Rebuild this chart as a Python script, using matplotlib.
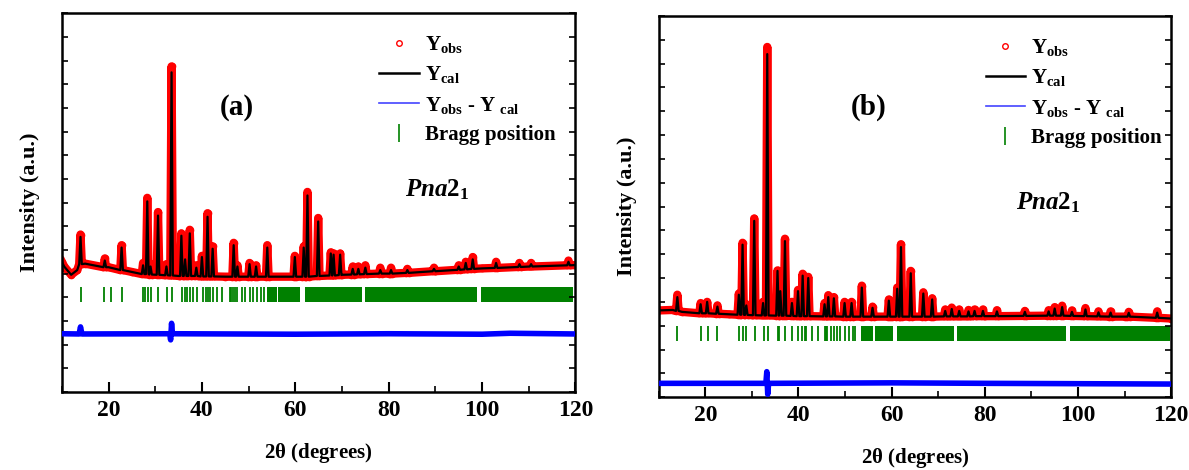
import numpy as np
import matplotlib
matplotlib.use('Agg')
import matplotlib.pyplot as plt
from matplotlib.lines import Line2D
from matplotlib.ticker import MultipleLocator, NullFormatter

plt.rcParams['font.family'] = ['Liberation Serif', 'DejaVu Serif']
plt.rcParams['font.weight'] = 'bold'
plt.rcParams['axes.labelweight'] = 'bold'
plt.rcParams['mathtext.fontset'] = 'custom'
plt.rcParams['mathtext.rm'] = 'Liberation Serif:bold'
plt.rcParams['mathtext.it'] = 'Liberation Serif:italic:bold'
plt.rcParams['mathtext.bf'] = 'Liberation Serif:bold'

# ---------------- panel (a) ----------------
# background of the calculated profile
bg_a_x = [10, 10.5, 12, 13.3, 15, 20, 25, 28, 35, 45, 60, 70, 80, 90, 100, 110, 120]
bg_a_y = [5.5, 5.3, 4.95, 5.15, 5.42, 5.27, 5.07, 4.98, 4.9, 4.87, 4.87, 4.95, 5.0, 5.1, 5.22, 5.3, 5.36]

# peaks: position, calculated top, observed top, foot level
peak_a_x = [14.0, 19.2, 22.8, 27.4, 28.3, 29.0, 30.6, 32.4, 33.5, 35.6, 36.4, 37.4,
            38.8, 40.0, 41.2, 42.3, 46.8, 47.6, 50.2, 51.6, 54.0, 59.9, 61.8, 62.6,
            64.9, 67.6, 68.2, 69.6, 72.3, 73.5, 75.0, 78.2, 80.5, 84.0, 89.7, 95.0,
            96.5, 98.0, 103.0, 108.0, 110.5, 118.5]
peak_a_cal = [6.55, 5.55, 6.1, 5.35, 8.05, 5.3, 7.45, 5.3, 13.5, 6.6, 5.6, 6.7,
              5.25, 5.7, 7.4, 6.05, 6.2, 5.3, 5.4, 5.3, 6.1, 5.7, 6.1, 8.3,
              7.2, 5.85, 5.8, 5.8, 5.2, 5.2, 5.25, 5.15, 5.15, 5.15, 5.2, 5.3,
              5.45, 5.6, 5.45, 5.4, 5.4, 5.5]
peak_a_obs = [6.65, 5.64, 6.2, 5.45, 8.2, 5.4, 7.6, 5.4, 13.75, 6.7, 5.7, 6.85,
              5.35, 5.75, 7.55, 6.15, 6.3, 5.35, 5.45, 5.35, 6.2, 5.75, 6.15, 8.45,
              7.35, 5.9, 5.85, 5.85, 5.3, 5.3, 5.35, 5.25, 5.25, 5.2, 5.25, 5.35,
              5.5, 5.7, 5.5, 5.45, 5.45, 5.55]
peak_a_foot = [5.4, 5.27, 5.15, 4.98, 4.98, 4.96, 4.95, 4.93, 4.92, 4.9, 4.9, 4.9,
               4.9, 4.88, 4.88, 4.88, 4.87, 4.87, 4.87, 4.87, 4.87, 4.87, 4.87, 4.87,
               4.9, 4.92, 4.92, 4.94, 4.96, 4.97, 4.98, 5.0, 5.0, 5.03, 5.1, 5.16,
               5.18, 5.2, 5.24, 5.28, 5.3, 5.35]

# difference curve (obs - cal)
diff_a_x = [10, 13.7, 14.0, 14.3, 33.1, 33.3, 33.5, 33.7, 60, 80, 100, 106, 120]
diff_a_y = [2.46, 2.45, 2.75, 2.45, 2.46, 2.2, 2.9, 2.46, 2.44, 2.46, 2.44, 2.48, 2.45]

bragg_a_lines = [14.2, 19.1, 20.6, 22.8, 27.4, 27.9, 28.5, 29.2, 30.7, 32.6, 33.6,
                 35.7, 36.3, 36.9, 37.5, 38.0, 38.9, 40.2, 40.8, 41.3, 41.8, 42.4,
                 43.2, 44.2, 46.0, 46.3, 46.7, 47.1, 47.5, 48.5, 49.3, 50.2, 51.0,
                 51.7, 52.6, 53.3]
bragg_a_bands = [(54.0, 56.0), (56.4, 61.0), (62.0, 74.3), (75.0, 99.0), (99.8, 119.5)]
bragg_a_lim = (3.8, 4.43)

# ---------------- panel (b) ----------------
bg_b_x = [10, 13, 15, 20, 25, 30, 40, 50, 60, 80, 95, 110, 120]
bg_b_y = [3.64, 3.66, 3.58, 3.52, 3.48, 3.44, 3.4, 3.38, 3.38, 3.4, 3.42, 3.38, 3.3]

peak_b_x = [14.0, 19.0, 20.4, 22.6, 27.2, 28.0, 28.8, 30.5, 32.4, 33.3, 35.5, 36.1,
            37.1, 38.6, 39.9, 40.9, 42.1, 45.6, 46.4, 47.6, 49.9, 51.4, 53.6, 55.9,
            59.4, 61.2, 62.0, 64.1, 66.8, 68.7, 71.5, 72.9, 74.5, 76.5, 77.8, 79.6,
            82.6, 88.6, 93.7, 95.0, 96.6, 98.7, 101.6, 104.4, 107.0, 110.9, 117.0]
peak_b_cal = [4.2, 3.9, 4.0, 3.8, 4.3, 6.4, 3.85, 7.4, 3.95, 14.4, 5.3, 4.45,
              6.55, 3.95, 4.45, 5.1, 5.0, 3.9, 4.2, 4.15, 3.95, 3.95, 4.6, 3.75,
              4.05, 4.55, 6.3, 5.2, 4.35, 4.1, 3.62, 3.7, 3.62, 3.6, 3.62, 3.62,
              3.6, 3.58, 3.6, 3.72, 3.78, 3.58, 3.68, 3.56, 3.55, 3.54, 3.55]
peak_b_obs = [4.3, 3.95, 4.0, 3.85, 4.35, 6.48, 3.9, 7.5, 4.0, 14.7, 5.32, 4.5,
              6.65, 4.0, 4.5, 5.18, 5.05, 3.95, 4.28, 4.2, 4.0, 4.0, 4.68, 3.8,
              4.1, 4.6, 6.42, 5.3, 4.4, 4.15, 3.68, 3.76, 3.68, 3.66, 3.68, 3.68,
              3.65, 3.62, 3.65, 3.78, 3.84, 3.64, 3.74, 3.6, 3.6, 3.58, 3.6]
peak_b_foot = [3.62, 3.52, 3.52, 3.5, 3.46, 3.46, 3.45, 3.44, 3.43, 3.43, 3.42, 3.42,
               3.42, 3.41, 3.4, 3.4, 3.4, 3.39, 3.39, 3.39, 3.38, 3.38, 3.38, 3.38,
               3.38, 3.38, 3.38, 3.38, 3.38, 3.38, 3.39, 3.39, 3.39, 3.39, 3.4, 3.4,
               3.4, 3.41, 3.42, 3.42, 3.42, 3.41, 3.4, 3.39, 3.38, 3.38, 3.33]

diff_b_x = [10, 33.0, 33.2, 33.4, 33.6, 60, 80, 120]
diff_b_y = [0.58, 0.58, 1.07, 0.12, 0.58, 0.6, 0.58, 0.55]

bragg_b_lines = [14.0, 19.1, 20.5, 22.5, 27.2, 28.0, 28.8, 30.6, 32.5, 33.5, 35.5,
                 35.9, 37.1, 38.6, 39.9, 40.7, 41.3, 41.7, 42.8, 44.1, 45.6, 45.9,
                 46.2, 47.0, 47.6, 48.2, 49.0, 50.0, 50.8, 51.6, 52.2]
bragg_b_bands = [(53.4, 56.0), (56.4, 60.2), (61.1, 73.3), (74.1, 97.5), (98.3, 119.8)]
bragg_b_lim = (2.34, 2.97)


def profile(bg_x, bg_y, px, ptop, pfoot, hw=0.28):
    '''merge background anchors and peak triangles into one polyline'''
    pts = [(x, y) for x, y in zip(bg_x, bg_y)
           if not any(abs(x - p) < hw for p in px)]
    for x, t, f in zip(px, ptop, pfoot):
        pts += [(x - hw, f), (x, t), (x + hw, f)]
    pts.sort(key=lambda p: p[0])
    return np.array([p[0] for p in pts]), np.array([p[1] for p in pts])


def draw_panel(ax, bg_x, bg_y, px, pcal, pobs, pfoot, dx, dy,
               blines, bbands, blim, letter, leg_anchor, letter_xy, sg_xy):
    xo, yo = profile(bg_x, bg_y, px, pobs, pfoot)
    xc, yc = profile(bg_x, bg_y, px, pcal, pfoot)

    ax.plot(xo, yo, color='red', lw=6, zorder=1, solid_joinstyle='round')
    ax.plot(xo, yo, ls='none', marker='o', ms=4.5, mfc='none', mec='red',
            mew=1.0, zorder=2)
    ax.plot(xc, yc, color='black', lw=1.6, zorder=3)
    ax.plot(dx, dy, color='blue', lw=4, zorder=3)

    ax.vlines(blines, blim[0], blim[1], color='green', lw=1.3)
    ax.broken_barh([(s, e - s) for s, e in bbands], (blim[0], blim[1] - blim[0]),
                   facecolor='green', edgecolor='none')

    ax.set_xlim(10, 120)
    ax.set_ylim(0, 16)
    ax.xaxis.set_major_locator(MultipleLocator(20))
    ax.xaxis.set_minor_locator(MultipleLocator(10))
    ax.yaxis.set_major_locator(MultipleLocator(1))
    ax.yaxis.set_major_formatter(NullFormatter())
    ax.tick_params(axis='x', which='major', direction='in', length=7, width=1.5,
                   labelsize=17, pad=6, top=False)
    ax.tick_params(axis='x', which='minor', direction='in', length=4, width=1.2, top=False)
    ax.tick_params(axis='y', which='major', direction='in', length=4, width=1.2,
                   left=True, right=True)
    for s in ax.spines.values():
        s.set_linewidth(1.8)

    ax.set_xlabel(r'2$\mathbf{\theta}$ (degrees)', fontsize=15, labelpad=14)
    ax.set_ylabel('Intensity (a.u.)', fontsize=16, labelpad=12)

    ax.text(letter_xy[0], letter_xy[1], letter, transform=ax.transAxes,
            fontsize=21, ha='center', va='center')
    ax.text(sg_xy[0], sg_xy[1], r'$\mathit{Pna}$2$_{\mathrm{1}}$',
            transform=ax.transAxes, fontsize=18, ha='center', va='center')

    handles = [
        Line2D([], [], ls='none', marker='o', ms=4, mfc='none', mec='red', mew=1.0),
        Line2D([], [], color='black', lw=1.8),
        Line2D([], [], color='#4444ff', lw=1.2),
        Line2D([], [], ls='none', marker='|', ms=13, mew=1.2, color='green'),
    ]
    labels = [r'Y$_{\mathrm{obs}}$', r'Y$_{\mathrm{cal}}$',
              r'Y$_{\mathrm{obs}}$ - Y $_{\mathrm{cal}}$', 'Bragg position']
    ax.legend(handles, labels, loc='upper left', bbox_to_anchor=leg_anchor,
              frameon=False, fontsize=15, handlelength=1.9, handletextpad=0.3,
              labelspacing=0.45, borderaxespad=0, borderpad=0)


fig = plt.figure(figsize=(11.89, 4.70), dpi=100)
ax1 = fig.add_axes([0.052, 0.166, 0.432, 0.806])
ax2 = fig.add_axes([0.554, 0.155, 0.431, 0.811])

draw_panel(ax1, bg_a_x, bg_a_y, peak_a_x, peak_a_cal, peak_a_obs, peak_a_foot,
           diff_a_x, diff_a_y, bragg_a_lines, bragg_a_bands, bragg_a_lim,
           '(a)', (0.618, 0.945), (0.34, 0.75), (0.73, 0.535))
draw_panel(ax2, bg_b_x, bg_b_y, peak_b_x, peak_b_cal, peak_b_obs, peak_b_foot,
           diff_b_x, diff_b_y, bragg_b_lines, bragg_b_bands, bragg_b_lim,
           '(b)', (0.638, 0.945), (0.41, 0.76), (0.76, 0.51))

fig.savefig('out.png', dpi=100)
plt.close()
